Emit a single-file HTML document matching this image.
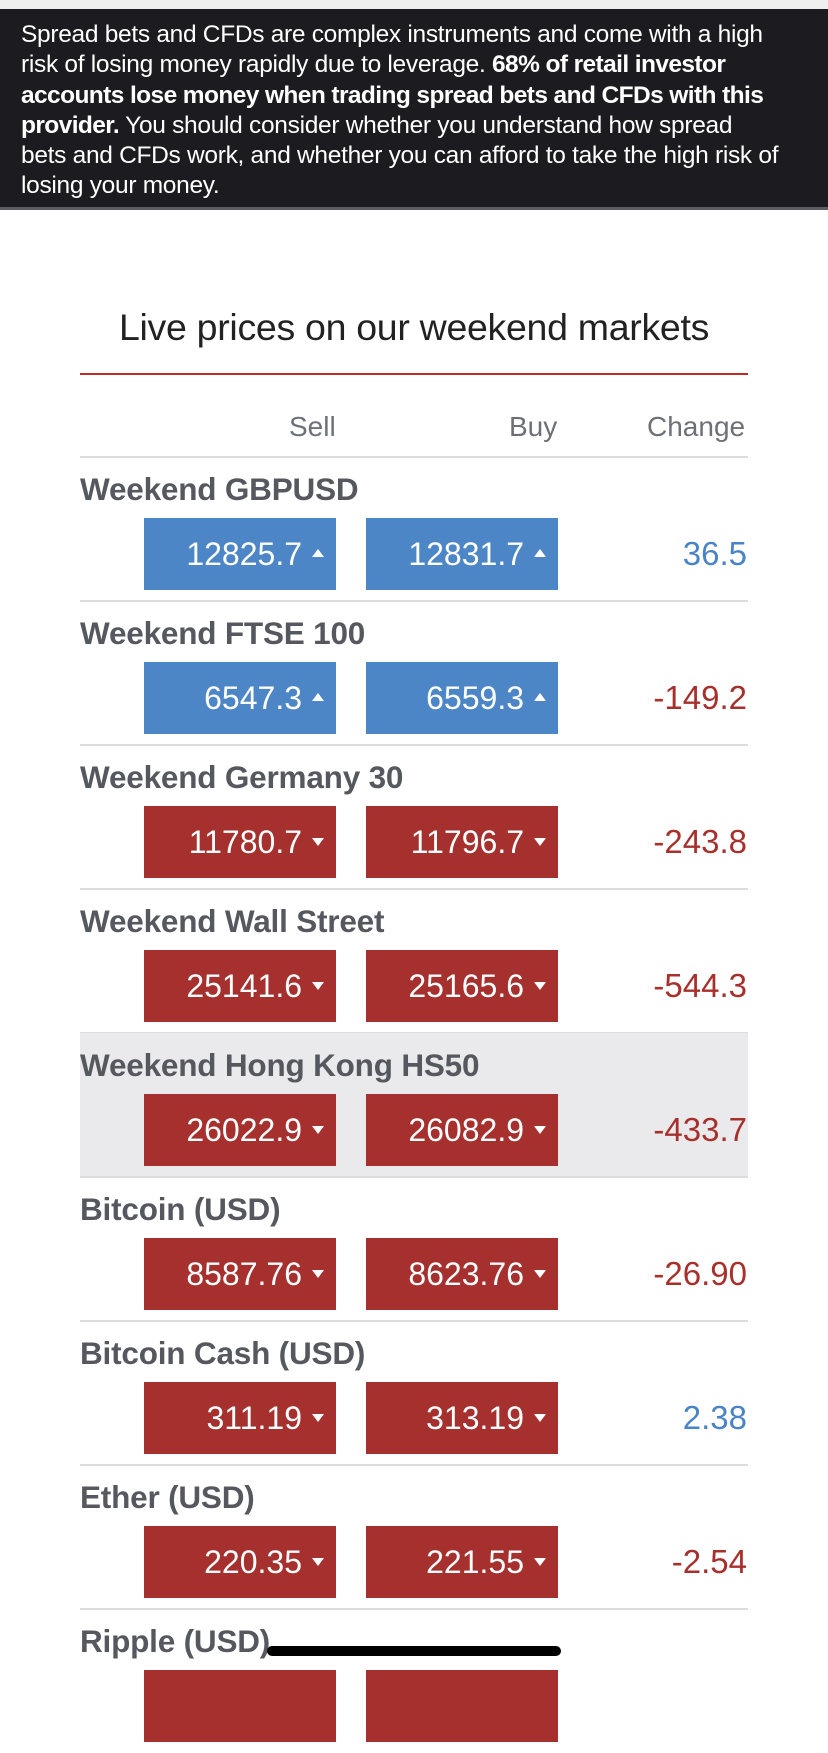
<!DOCTYPE html>
<html><head><meta charset="utf-8"><style>
*{margin:0;padding:0;box-sizing:border-box}
body{width:828px;height:1673px;overflow:hidden;background:#fff;font-family:"Liberation Sans",sans-serif;position:relative}
.top{position:absolute;left:0;top:0;width:828px;height:9px;background:#efeff0}
.ban{position:absolute;left:0;top:9px;width:828px;height:201px;background:#1c1c20;border-bottom:3px solid #5a5d63;color:#fff;font-size:24.5px;line-height:30.3px;padding:11px 0 0 21px;white-space:nowrap;letter-spacing:-0.3px;overflow:hidden}
.ban b{font-weight:bold;letter-spacing:-0.6px}
.title{position:absolute;left:0;width:828px;top:306px;text-align:center;font-size:37.5px;color:#222;letter-spacing:-0.3px}
.red{position:absolute;left:80px;width:668px;top:373px;height:2px;background:#c0282a}
.hd{position:absolute;top:411px;font-size:28px;color:#6d7177}
.sep{position:absolute;left:80px;width:668px;height:2px;background:#dcdcdf}
.row{position:absolute;left:80px;width:668px;height:144px}
.nm{position:absolute;left:0;top:14px;font-size:31.5px;font-weight:bold;color:#55585e;letter-spacing:-0.2px;white-space:nowrap}
.bt{position:absolute;top:61px;width:192px;height:72px;color:#fff;font-size:32px;text-align:right;padding-right:34px;line-height:72px}
.bt i{position:absolute;right:12px;top:32px;width:0;height:0;border-left:6px solid transparent;border-right:6px solid transparent}
.up i{border-bottom:8px solid #fff;top:31px}
.dn i{border-top:8px solid #fff}
.b{background:#4d86c6}.r{background:#a5302d}
.s{left:64px}.y{left:286px}
.ch{position:absolute;right:1px;top:61px;line-height:72px;font-size:33px}
.cb{color:#4a84c8}.cr{color:#a8302c}
.bar{position:absolute;left:267px;top:1646px;width:294px;height:10px;border-radius:5px;background:#000}
</style></head><body>
<div class="top"></div>
<div class="ban">Spread bets and CFDs are complex instruments and come with a high<br>risk of losing money rapidly due to leverage. <b>68% of retail investor</b><br><b>accounts lose money when trading spread bets and CFDs with this</b><br><b>provider.</b> You should consider whether you understand how spread<br>bets and CFDs work, and whether you can afford to take the high risk of<br>losing your money.</div>
<div class="title">Live prices on our weekend markets</div>
<div class="red"></div>
<div class="hd" style="left:289px">Sell</div>
<div class="hd" style="left:509px">Buy</div>
<div class="hd" style="left:647px">Change</div>
<div class="sep" style="top:456px"></div>

<div class="row" style="top:457px"><div class="nm">Weekend GBPUSD</div><div class="bt b up s">12825.7<i></i></div><div class="bt b up y">12831.7<i></i></div><div class="ch cb">36.5</div></div>
<div class="sep" style="top:600px"></div>
<div class="row" style="top:601px"><div class="nm">Weekend FTSE 100</div><div class="bt b up s">6547.3<i></i></div><div class="bt b up y">6559.3<i></i></div><div class="ch cr">-149.2</div></div>
<div class="sep" style="top:744px"></div>
<div class="row" style="top:745px"><div class="nm">Weekend Germany 30</div><div class="bt r dn s">11780.7<i></i></div><div class="bt r dn y">11796.7<i></i></div><div class="ch cr">-243.8</div></div>
<div class="sep" style="top:888px"></div>
<div class="row" style="top:889px"><div class="nm">Weekend Wall Street</div><div class="bt r dn s">25141.6<i></i></div><div class="bt r dn y">25165.6<i></i></div><div class="ch cr">-544.3</div></div>
<div class="sep" style="top:1032px"></div>
<div class="row" style="top:1033px;background:#eaeaec"><div class="nm">Weekend Hong Kong HS50</div><div class="bt r dn s">26022.9<i></i></div><div class="bt r dn y">26082.9<i></i></div><div class="ch cr">-433.7</div></div>
<div class="sep" style="top:1176px"></div>
<div class="row" style="top:1177px"><div class="nm">Bitcoin (USD)</div><div class="bt r dn s">8587.76<i></i></div><div class="bt r dn y">8623.76<i></i></div><div class="ch cr">-26.90</div></div>
<div class="sep" style="top:1320px"></div>
<div class="row" style="top:1321px"><div class="nm">Bitcoin Cash (USD)</div><div class="bt r dn s">311.19<i></i></div><div class="bt r dn y">313.19<i></i></div><div class="ch cb">2.38</div></div>
<div class="sep" style="top:1464px"></div>
<div class="row" style="top:1465px"><div class="nm">Ether (USD)</div><div class="bt r dn s">220.35<i></i></div><div class="bt r dn y">221.55<i></i></div><div class="ch cr">-2.54</div></div>
<div class="sep" style="top:1608px"></div>
<div class="row" style="top:1609px"><div class="nm">Ripple (USD)</div><div class="bt r dn s"></div><div class="bt r dn y"></div></div>
<div class="bar"></div>
</body></html>
